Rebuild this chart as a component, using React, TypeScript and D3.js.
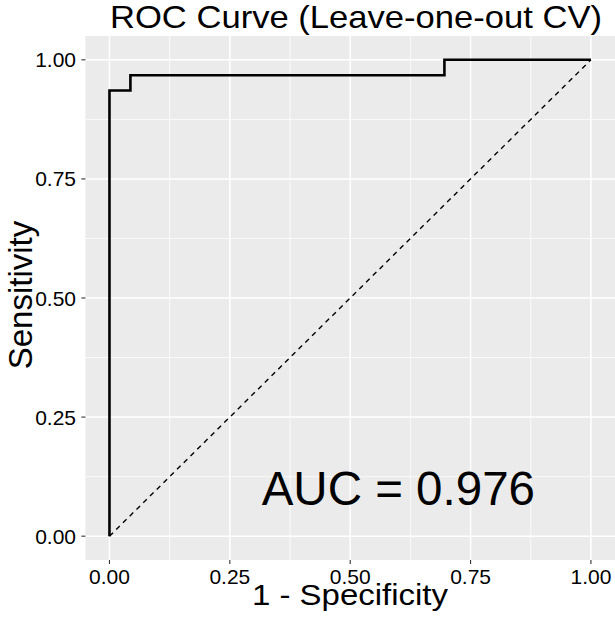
import React from "react";
import * as d3 from "d3";

const fprValues = [0, 0, 0.0435, 0.0435, 0.6957, 0.6957, 1];
const tprValues = [0, 0.9355, 0.9355, 0.9677, 0.9677, 1, 1];
const tickValues = [0, 0.25, 0.5, 0.75, 1];
const tickLabels = ["0.00", "0.25", "0.50", "0.75", "1.00"];
const minorTicks = [0.125, 0.375, 0.625, 0.875];
const titleText = "ROC Curve (Leave-one-out CV)";
const xTitle = "1 - Specificity";
const yTitle = "Sensitivity";
const aucText = "AUC = 0.976";
const aucPos = [0.6, 0.1];

const W = 615, H = 624;
const P = { l: 85.4, r: 615, t: 36, b: 560 };
const FONT = "'Liberation Sans', Arial, sans-serif";

export default function App() {
  const x = d3.scaleLinear().domain([-0.05, 1.05]).range([P.l, P.r]);
  const y = d3.scaleLinear().domain([-0.05, 1.05]).range([P.b, P.t]);
  const pts: [number, number][] = fprValues.map((f, i) => [f, tprValues[i]]);
  const line = d3.line<[number, number]>().x(d => x(d[0])).y(d => y(d[1]));
  return (
    <svg width={W} height={H} style={{ position: "absolute", left: 0, top: 0 }} fontFamily={FONT}>
      <rect x={0} y={0} width={W} height={H} fill="#fff" />
      <rect x={P.l} y={P.t} width={P.r - P.l} height={P.b - P.t} fill="#EBEBEB" />
      {minorTicks.map(v => (
        <g key={"m" + v}>
          <line x1={x(v)} x2={x(v)} y1={P.t} y2={P.b} stroke="#fff" strokeWidth={0.75} />
          <line x1={P.l} x2={P.r} y1={y(v)} y2={y(v)} stroke="#fff" strokeWidth={0.75} />
        </g>
      ))}
      {tickValues.map(v => (
        <g key={"M" + v}>
          <line x1={x(v)} x2={x(v)} y1={P.t} y2={P.b} stroke="#fff" strokeWidth={1.5} />
          <line x1={P.l} x2={P.r} y1={y(v)} y2={y(v)} stroke="#fff" strokeWidth={1.5} />
        </g>
      ))}
      <line x1={x(0)} y1={y(0)} x2={x(1)} y2={y(1)} stroke="#000" strokeWidth={1.4} strokeDasharray="5,4.5" />
      <path d={line(pts) || ""} fill="none" stroke="#000" strokeWidth={2.6} strokeLinejoin="miter" />
      <text x={x(aucPos[0])} y={y(aucPos[1]) + 16} textAnchor="middle" fontSize={47.5} fill="#000">{aucText}</text>
      {tickValues.map((v, i) => (
        <g key={"t" + v}>
          <line x1={x(v)} x2={x(v)} y1={P.b} y2={P.b + 4} stroke="#333" strokeWidth={1.1} />
          <text x={x(v)} y={584} textAnchor="middle" fontSize={21} fill="#000">{tickLabels[i]}</text>
          <line x1={P.l - 4} x2={P.l} y1={y(v)} y2={y(v)} stroke="#333" strokeWidth={1.1} />
          <text x={76} y={y(v) + 7.5} textAnchor="end" fontSize={21} fill="#000">{tickLabels[i]}</text>
        </g>
      ))}
      <text x={356} y={28} textAnchor="middle" fontSize={32} textLength={492} lengthAdjust="spacingAndGlyphs" fill="#000">{titleText}</text>
      <text x={350} y={605} textAnchor="middle" fontSize={29} textLength={196} lengthAdjust="spacingAndGlyphs" fill="#000">{xTitle}</text>
      <text transform={`translate(32,${(P.t + P.b) / 2 - 3}) rotate(-90)`} textAnchor="middle" fontSize={33} fill="#000">{yTitle}</text>
    </svg>
  );
}
